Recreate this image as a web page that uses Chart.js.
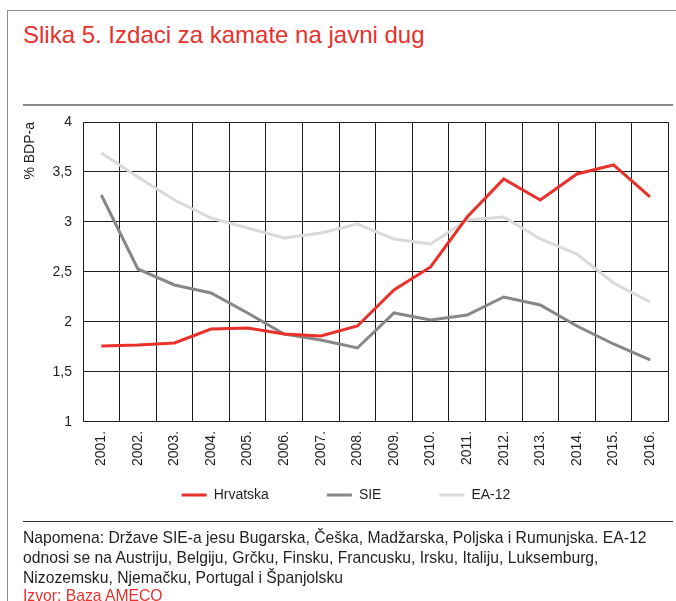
<!DOCTYPE html>
<html>
<head>
<meta charset="utf-8">
<script src="https://cdn.jsdelivr.net/npm/chart.js@4"></script>
<style>
  body { margin: 0; background: #fff; font-family: "Liberation Sans", Arial, sans-serif; }
  #page { position: relative; width: 676px; height: 601px; overflow: hidden; }
  .frame-top { position: absolute; left: 7px; top: 10px; width: 669px; height: 0; border-top: 1.5px solid #8c8c8c; }
  .frame-left { position: absolute; left: 7px; top: 10px; width: 0; height: 600px; border-left: 1.5px solid #8c8c8c; }
  .title { position: absolute; left: 23px; top: 23px; font-size: 24px; line-height: 24px; color: #e8312b; white-space: nowrap; }
  .sep-title { position: absolute; left: 23px; top: 104px; width: 650px; height: 0; border-top: 2px solid #8a8a8a; }
  .sep-note { position: absolute; left: 23px; top: 521px; width: 650px; height: 0; border-top: 1px solid #333; }
  .note { position: absolute; left: 23px; top: 528px; font-size: 15.7px; line-height: 20px; color: #231f20; white-space: nowrap; }
  .source { position: absolute; left: 23px; top: 586px; font-size: 15.7px; line-height: 20px; color: #e8312b; white-space: nowrap; }
  .chart-box { position: absolute; left: 0; top: 100px; width: 676px; height: 435px; }
</style>
</head>
<body>
<div id="page">
  <div class="frame-top"></div>
  <div class="frame-left"></div>
  <div class="title">Slika 5. Izdaci za kamate na javni dug</div>
  <div class="sep-title"></div>
  <div class="chart-box"><canvas id="chart"></canvas></div>
  <div class="sep-note"></div>
  <div class="note">Napomena: Države SIE-a jesu Bugarska, Češka, Madžarska, Poljska i Rumunjska. EA-12<br>odnosi se na Austriju, Belgiju, Grčku, Finsku, Francusku, Irsku, Italiju, Luksemburg,<br>Nizozemsku, Njemačku, Portugal i Španjolsku</div>
  <div class="source">Izvor: Baza AMECO</div>
</div>
<script>
const years = ["2001.", "2002.", "2003.", "2004.", "2005.", "2006.", "2007.", "2008.",
  "2009.", "2010.", "2011.", "2012.", "2013.", "2014.", "2015.", "2016."];
const hrvatska = [1.76, 1.77, 1.79, 1.93, 1.94, 1.88, 1.86, 1.96, 2.32, 2.55, 3.05, 3.43, 3.22, 3.48, 3.57, 3.25];
const sie = [3.27, 2.53, 2.37, 2.29, 2.09, 1.88, 1.82, 1.74, 2.09, 2.02, 2.07, 2.25, 2.17, 1.96, 1.78, 1.62];
const ea12 = [3.69, 3.45, 3.22, 3.04, 2.94, 2.84, 2.89, 2.98, 2.83, 2.78, 3.02, 3.05, 2.83, 2.68, 2.39, 2.20];

const font = "'Liberation Sans', Arial, sans-serif";
const textColor = "#231f20";
const gridColor = "#1e1e1e";
const legendGap = 58;

const line = (label, data, color) => ({
  label,
  data,
  borderColor: color,
  backgroundColor: color,
  borderWidth: 3,
  pointRadius: 0,
  tension: 0
});

// wide gaps between legend items, but keep the row close under the year labels
const legendLift = {
  id: "legendLift",
  afterLayout(chart) {
    chart.legend.top -= legendGap - 13;
  }
};

new Chart(document.getElementById("chart"), {
  type: "line",
  data: {
    labels: years,
    datasets: [
      line("Hrvatska", hrvatska, "#e8312b"),
      line("SIE", sie, "#878787"),
      line("EA-12", ea12, "#dadada")
    ]
  },
  plugins: [legendLift],
  options: {
    responsive: true,
    maintainAspectRatio: false,
    animation: false,
    layout: { padding: { left: 20, right: 4, top: 22, bottom: 0 } },
    plugins: {
      tooltip: { enabled: false },
      legend: {
        position: "bottom",
        maxHeight: 60,
        labels: {
          color: textColor,
          font: { family: font, size: 14 },
          boxWidth: 25,
          boxHeight: 3,
          padding: legendGap,
          generateLabels: (chart) =>
            Chart.defaults.plugins.legend.labels.generateLabels(chart).map((item) => ({ ...item, lineWidth: 0 }))
        }
      }
    },
    scales: {
      x: {
        offset: true,
        grid: { offset: true, color: gridColor, lineWidth: 1, drawTicks: false },
        border: { color: gridColor, width: 1 },
        ticks: {
          color: textColor,
          font: { family: font, size: 14 },
          minRotation: 90,
          maxRotation: 90,
          padding: 9,
          autoSkip: false
        }
      },
      y: {
        min: 1,
        max: 4,
        afterFit: (scale) => { scale.width = 63; },
        grid: { color: gridColor, lineWidth: 1, drawTicks: false },
        border: { color: gridColor, width: 1 },
        ticks: {
          stepSize: 0.5,
          color: textColor,
          font: { family: font, size: 14 },
          padding: 11,
          callback: (v) => String(v).replace(".", ",")
        },
        title: {
          display: true,
          text: "% BDP-a",
          align: "end",
          color: textColor,
          font: { family: font, size: 14 },
          padding: { top: 2, bottom: 0 }
        }
      }
    }
  }
});
</script>
</body>
</html>
